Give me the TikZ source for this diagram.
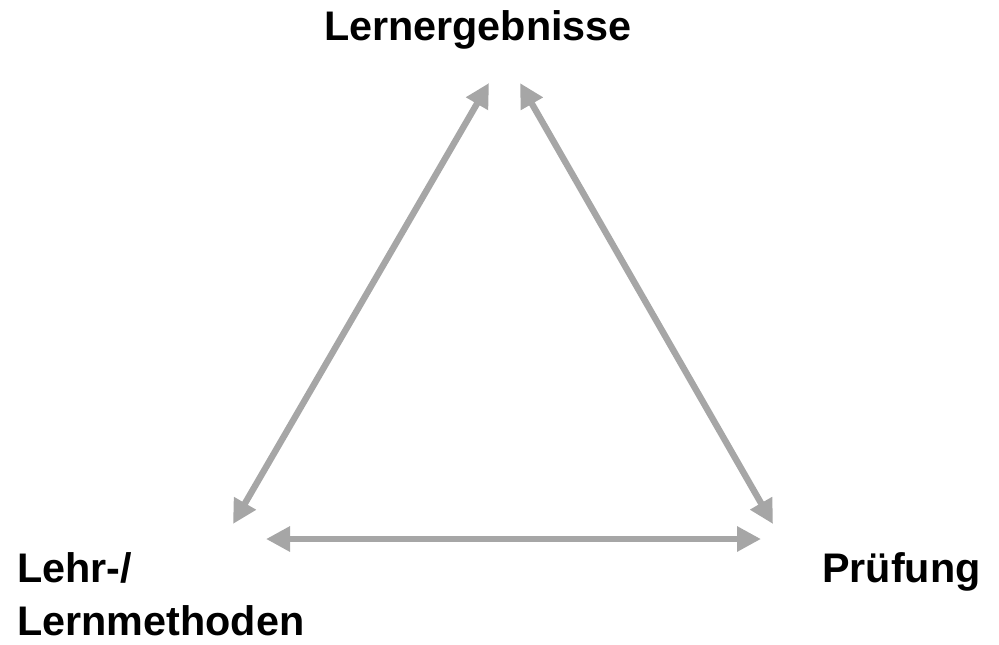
\documentclass[tikz,border=0pt]{standalone}
\usepackage{fontspec}
\setmainfont{Liberation Sans}
\usetikzlibrary{arrows.meta}
\definecolor{arrowgray}{HTML}{A6A6A6}
\tikzset{
  conn/.style={draw=arrowgray, line width=4.8pt, {Triangle[length=18pt,width=18pt]}-{Triangle[length=18pt,width=18pt]}},
  lbl/.style={inner sep=0pt, font=\fontsize{31}{40}\selectfont\bfseries}
}
\begin{document}
\begin{tikzpicture}[x=0.75pt,y=-0.75pt]
\useasboundingbox (0,0) rectangle (999,644);
\node[lbl, anchor=base] (top) at (478,40) {Lernergebnisse};
\node[lbl, anchor=base west] (left1) at (17,582) {Lehr-/};
\node[lbl, anchor=base west] (left2) at (17,635) {Lernmethoden};
\node[lbl, anchor=base west] (right) at (822,582) {Prüfung};
\coordinate (tl) at (489,83);
\coordinate (bl) at (233,524);
\coordinate (tr) at (520,83);
\coordinate (br) at (773,524);
\coordinate (hl) at (266,539);
\coordinate (hr) at (761,539);
\draw[conn] (bl) -- (tl);
\draw[conn] (tr) -- (br);
\draw[conn] (hl) -- (hr);
\end{tikzpicture}
\end{document}
